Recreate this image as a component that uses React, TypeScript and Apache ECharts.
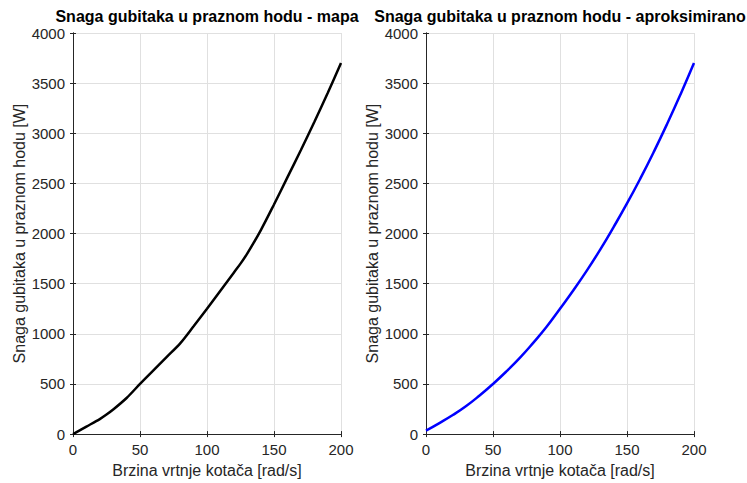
import React, { useEffect, useRef } from "react";
import * as echarts from "echarts";

const speedMap = [0, 10, 20, 25, 30, 40, 50, 60, 70, 80, 90, 100, 110, 120, 125, 130, 140, 150, 160, 170, 180, 190, 200];
const lossMap = [0, 75, 150, 195, 245, 360, 500, 635, 770, 905, 1075, 1250, 1430, 1610, 1700, 1800, 2030, 2290, 2560, 2830, 3110, 3400, 3700];

const speedApprox = [0, 10, 20, 30, 40, 50, 60, 70, 80, 90, 100, 110, 120, 130, 140, 150, 160, 170, 180, 190, 200];
const lossApprox = [35, 110, 190, 280, 385, 500, 625, 760, 910, 1070, 1250, 1435, 1630, 1840, 2065, 2300, 2550, 2815, 3095, 3390, 3700];

const titles = ["Snaga gubitaka u praznom hodu - mapa", "Snaga gubitaka u praznom hodu - aproksimirano"];
const xName = "Brzina vrtnje kotača [rad/s]";
const yName = "Snaga gubitaka u praznom hodu [W]";

const FONT = "'Liberation Sans', Arial, Helvetica, sans-serif";
const AXIS_COLOR = "#262626";
const GRID_COLOR = "#e0e0e0";

export default function App() {
  const ref = useRef<HTMLDivElement>(null);
  useEffect(() => {
    if (!ref.current) return;
    const chart = echarts.init(ref.current, null, { renderer: "svg" });
    const grids = [
      { left: 73, top: 33, width: 268, height: 403 },
      { left: 426, top: 33, width: 268, height: 403 },
    ];
    const plain = (v: number) => String(v);
    const xAxes: any[] = [];
    const yAxes: any[] = [];
    grids.forEach((_, i) => {
      xAxes.push({
        type: "value",
        gridIndex: i,
        min: 0,
        max: 200,
        interval: 50,
        name: xName,
        nameLocation: "middle",
        nameGap: 25,
        nameTextStyle: { fontFamily: FONT, fontSize: 16, color: AXIS_COLOR },
        axisLine: { show: true, lineStyle: { color: AXIS_COLOR, width: 1 } },
        axisTick: { show: true, inside: true, length: 3, lineStyle: { color: AXIS_COLOR } },
        axisLabel: { fontFamily: FONT, fontSize: 15, color: AXIS_COLOR, margin: 8, formatter: plain },
        splitLine: { show: true, lineStyle: { color: GRID_COLOR, width: 1 } },
      });
      xAxes.push({
        type: "value",
        gridIndex: i,
        position: "top",
        min: 0,
        max: 200,
        interval: 50,
        axisLine: { show: true, lineStyle: { color: AXIS_COLOR, width: 1 } },
        axisTick: { show: true, inside: true, length: 3, lineStyle: { color: AXIS_COLOR } },
        axisLabel: { show: false },
        splitLine: { show: false },
      });
      yAxes.push({
        type: "value",
        gridIndex: i,
        min: 0,
        max: 4000,
        interval: 500,
        name: yName,
        nameLocation: "middle",
        nameGap: 45,
        nameTextStyle: { fontFamily: FONT, fontSize: 16, color: AXIS_COLOR },
        axisLine: { show: true, lineStyle: { color: AXIS_COLOR, width: 1 } },
        axisTick: { show: true, inside: true, length: 3, lineStyle: { color: AXIS_COLOR } },
        axisLabel: { fontFamily: FONT, fontSize: 15, color: AXIS_COLOR, margin: 8, formatter: plain },
        splitLine: { show: true, lineStyle: { color: GRID_COLOR, width: 1 } },
      });
      yAxes.push({
        type: "value",
        gridIndex: i,
        position: "right",
        min: 0,
        max: 4000,
        interval: 500,
        axisLine: { show: true, lineStyle: { color: AXIS_COLOR, width: 1 } },
        axisTick: { show: true, inside: true, length: 3, lineStyle: { color: AXIS_COLOR } },
        axisLabel: { show: false },
        splitLine: { show: false },
      });
    });
    chart.setOption({
      animation: false,
      backgroundColor: "#ffffff",
      title: titles.map((t, i) => ({
        text: t,
        left: grids[i].left + grids[i].width / 2,
        textAlign: "center",
        top: 8,
        padding: 0,
        textStyle: { fontFamily: FONT, fontSize: 16, fontWeight: "bold", color: "#000000" },
      })),
      grid: grids,
      xAxis: xAxes,
      yAxis: yAxes,
      series: [
        {
          type: "line",
          xAxisIndex: 0,
          yAxisIndex: 0,
          data: speedMap.map((x, k) => [x, lossMap[k]]),
          showSymbol: false,
          smooth: 0.3,
          lineStyle: { color: "#000000", width: 2.5 },
          itemStyle: { color: "#000000" },
        },
        {
          type: "line",
          xAxisIndex: 2,
          yAxisIndex: 2,
          data: speedApprox.map((x, k) => [x, lossApprox[k]]),
          showSymbol: false,
          smooth: true,
          lineStyle: { color: "#0000ff", width: 2.5 },
          itemStyle: { color: "#0000ff" },
        },
      ],
    });
    return () => chart.dispose();
  }, []);
  return (
    <div
      ref={ref}
      style={{ position: "fixed", left: 0, top: 0, width: 747, height: 483, background: "#fff" }}
    />
  );
}
